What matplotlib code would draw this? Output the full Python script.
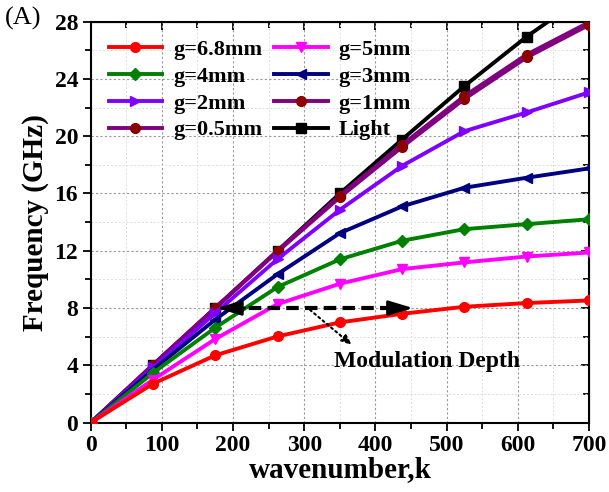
import matplotlib
matplotlib.use('Agg')
from matplotlib import pyplot as plt
from matplotlib.ticker import MultipleLocator

plt.rcParams['font.family'] = ['Liberation Serif', 'DejaVu Serif']

# wavenumber samples
k = [0, 87.5, 175, 262.5, 350, 437.5, 525, 612.5, 700]

g68 = [0, 2.72, 4.70, 6.02, 7.00, 7.60, 8.09, 8.35, 8.53]
g5 = [0, 3.00, 5.84, 8.28, 9.70, 10.72, 11.19, 11.60, 11.88]
g4 = [0, 3.47, 6.63, 9.47, 11.40, 12.70, 13.51, 13.86, 14.20]
g3 = [0, 3.70, 7.20, 10.37, 13.23, 15.10, 16.40, 17.10, 17.75]
g2 = [0, 3.85, 7.65, 11.42, 14.86, 17.93, 20.35, 21.66, 23.06]
g1 = [0, 4.02, 8.00, 11.95, 15.74, 19.25, 22.60, 25.50, 27.77]
g05 = [0, 4.05, 8.02, 12.00, 15.85, 19.40, 22.80, 25.70, 27.95]
light = [0, 4.00, 8.00, 12.00, 16.00, 19.77, 23.50, 26.95, 30.00]

series = [
    ('g=6.8mm', g68, '#FF0000', 'o', '#FF0000'),
    ('g=5mm', g5, '#FF00FF', 'v', '#FF00FF'),
    ('g=4mm', g4, '#008000', 'D', '#008000'),
    ('g=3mm', g3, '#000080', '<', '#000080'),
    ('g=2mm', g2, '#8000FF', '>', '#8000FF'),
    ('g=1mm', g1, '#800080', 'o', '#8B0000'),
    ('g=0.5mm', g05, '#800080', 'o', '#8B0000'),
    ('Light', light, '#000000', 's', '#000000'),
]

fig = plt.figure(figsize=(6.09, 4.92), dpi=100)
ax = fig.add_axes([0.149, 0.141, 0.818, 0.815])

# draw back to front so the light line sits on top like the original
order = [6, 7, 5, 4, 3, 2, 1, 0]
handles = {}
for i in order:
    name, vals, col, mk, mcol = series[i]
    ms = 6 if mk == 'D' else 7
    ln, = ax.plot(k, vals, color=col, lw=2.8, marker=mk, ms=ms,
                  markerfacecolor=mcol, markeredgecolor=mcol, label=name,
                  zorder=3 + (8 - i) * 0.1)
    handles[i] = ln

ax.set_xlim(0, 700)
ax.set_ylim(0, 28)
ax.xaxis.set_major_locator(MultipleLocator(100))
ax.xaxis.set_minor_locator(MultipleLocator(50))
ax.yaxis.set_major_locator(MultipleLocator(4))
ax.yaxis.set_minor_locator(MultipleLocator(2))

ax.grid(which='major', ls=(0, (2, 2)), color='#999999', lw=0.8)
ax.grid(which='minor', ls=(0, (2, 2)), color='#dddddd', lw=0.7)
ax.set_axisbelow(True)

ax.tick_params(which='both', direction='out', width=1.3, labelsize=17, pad=3)
ax.tick_params(which='major', length=6)
ax.tick_params(which='minor', length=4)
for lab in ax.get_xticklabels() + ax.get_yticklabels():
    lab.set_fontweight('bold')
for sp in ax.spines.values():
    sp.set_linewidth(1.5)

# top / right ticks point inward, no labels
ax2 = ax.secondary_xaxis('top')
ax2.xaxis.set_major_locator(MultipleLocator(100))
ax2.xaxis.set_minor_locator(MultipleLocator(50))
ax2.tick_params(which='both', direction='in', labeltop=False, width=1.3)
ax2.tick_params(which='major', length=6)
ax2.tick_params(which='minor', length=4)
ax3 = ax.secondary_yaxis('right')
ax3.yaxis.set_major_locator(MultipleLocator(4))
ax3.yaxis.set_minor_locator(MultipleLocator(2))
ax3.tick_params(which='both', direction='in', labelright=False, width=1.3)
ax3.tick_params(which='major', length=6)
ax3.tick_params(which='minor', length=4)

ax.set_xlabel('wavenumber,k', fontsize=21, fontweight='bold', labelpad=0)
ax.set_ylabel('Frequency (GHz)', fontsize=21, fontweight='bold', labelpad=4)

# modulation depth annotation
ax.plot([195, 430], [8, 8], color='k', lw=3, ls=(0, (3, 1.5)), zorder=6)
ax.annotate('', xy=(173, 8), xytext=(220, 8),
            arrowprops=dict(arrowstyle='-|>,head_length=1.5,head_width=0.45',
                            color='k', lw=2), zorder=7)
ax.annotate('', xy=(457, 8), xytext=(410, 8),
            arrowprops=dict(arrowstyle='-|>,head_length=1.5,head_width=0.45',
                            color='k', lw=2), zorder=7)
ax.annotate('', xy=(370, 5.3), xytext=(305, 8),
            arrowprops=dict(arrowstyle='-|>,head_length=0.6,head_width=0.25',
                            color='k', lw=1.5, ls=':'), zorder=7)
ax.text(342, 4.25, 'Modulation Depth', fontsize=17, fontweight='bold',
        va='center', ha='left', zorder=7)

# matplotlib fills legend columns first; this gives the row order of the original
leg_order = [0, 2, 4, 6, 1, 3, 5, 7]
leg = ax.legend([handles[i] for i in leg_order], [series[i][0] for i in leg_order],
                ncol=2, loc='upper left', bbox_to_anchor=(0.0, 1.0),
                frameon=False, prop={'size': 16, 'weight': 'bold'},
                handlelength=2.4, columnspacing=0.55, labelspacing=0.28,
                handletextpad=0.5, borderaxespad=0.3, borderpad=0.5)

fig.text(0.008, 0.962, '(A)', fontsize=19, va='center', ha='left')

fig.savefig('out.png', dpi=100)
